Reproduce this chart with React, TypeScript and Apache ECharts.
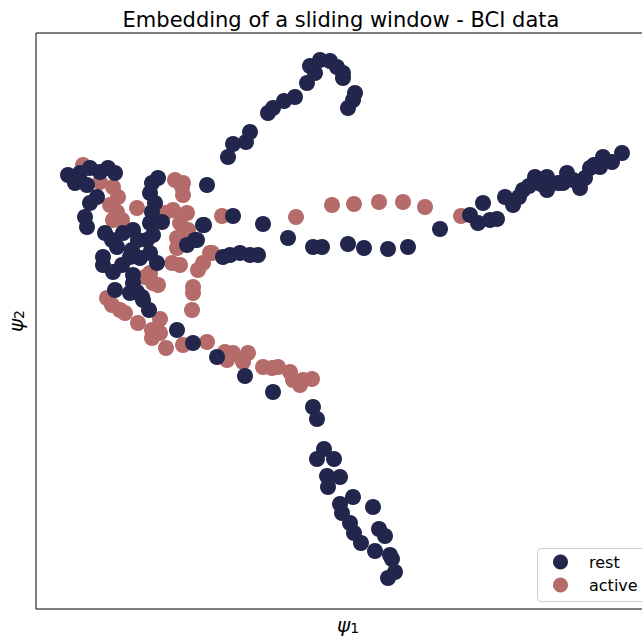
import React, { useEffect, useRef } from "react";
import * as echarts from "echarts";

// Embedding coordinates (psi1, psi2), arbitrary units
const restX = [228,233,246,250,268,273,284,295,307,310,315,320,330,337,343,343,355,353,348,
  207,233,204,263,288,313,322,348,364,388,408,440,470,483,478,490,497,505,513,519,523,529,535,541,547,547,558,567,563,573,580,585,590,594,600,603,612,622,
  197,230,240,250,258,223,
  68,75,80,90,100,108,115,87,97,90,85,87,105,112,117,123,133,138,132,147,153,103,103,113,122,130,140,150,157,133,133,115,130,137,142,143,149,152,158,150,155,152,150,162,203,195,187,177,193,217,245,273,
  313,317,324,317,334,327,340,328,353,340,342,350,354,361,373,379,385,375,390,392,395,388];
const restY = [157,144,142,132,113,108,101,97,83,66,73,60,61,67,73,78,93,100,108,
  185,216,225,224,238,247,247,244,248,249,247,229,215,203,223,220,219,197,205,197,190,186,177,184,177,190,183,173,183,180,188,178,168,165,167,157,162,153,
  240,255,253,255,255,257,
  175,183,173,168,172,168,173,185,197,203,217,227,233,240,247,233,230,240,250,240,235,257,265,272,265,257,258,253,263,275,283,290,293,292,297,300,310,183,178,193,203,212,223,222,225,240,245,330,343,357,376,392,
  407,419,449,459,459,476,477,487,497,504,513,523,533,543,507,529,536,551,555,559,572,578];

const activeX = [183,222,296,332,354,379,403,425,461,
  83,100,113,118,110,117,122,113,137,165,175,182,183,173,187,180,188,177,177,172,180,210,212,203,198,150,153,158,193,193,192,145,
  107,112,120,125,138,160,152,160,152,166,183,207,225,233,227,248,243,263,272,278,290,293,303,312,300];
const activeY = [183,216,217,205,204,202,202,207,216,
  165,182,187,197,205,212,220,220,208,213,180,187,195,210,213,223,230,238,248,263,265,253,253,263,270,273,283,285,287,293,310,277,
  298,305,310,313,323,319,330,333,338,348,345,342,352,353,360,353,362,367,368,367,372,380,380,379,385];

const seriesNames = ["rest", "active"];
const titleText = "Embedding of a sliding window - BCI data";

const H = 637;
const toPairs = (xs: number[], ys: number[]) => xs.map((x, i) => [x, H - ys[i]]);

export default function App() {
  const ref = useRef<HTMLDivElement>(null);
  useEffect(() => {
    if (!ref.current) return;
    const chart = echarts.init(ref.current, undefined, { renderer: "svg" });
    const nameRich = {
      p: { fontSize: 20, fontStyle: "italic", fontFamily: "DejaVu Sans", color: "#000" },
      s: { fontSize: 14, fontFamily: "DejaVu Sans", color: "#000", verticalAlign: "bottom", padding: [6, 0, 0, 0] },
    };
    chart.setOption({
      animation: false,
      textStyle: { fontFamily: "DejaVu Sans" },
      title: {
        text: titleText,
        left: 336,
        textAlign: "center",
        top: 4,
        textStyle: { fontSize: 21, fontWeight: "normal", color: "#000", fontFamily: "DejaVu Sans" },
      },
      grid: {
        left: 36, top: 33, width: 624, height: 576,
        outerBoundsMode: "none",
        containLabel: false,
        show: true, borderColor: "#000", borderWidth: 1, backgroundColor: "transparent",
      },
      xAxis: {
        type: "value", min: 36, max: 660,
        axisLine: { show: false }, axisTick: { show: false }, axisLabel: { show: false }, splitLine: { show: false },
        name: "{p|ψ}{s|1}", nameLocation: "middle", nameGap: 6,
        nameTextStyle: { rich: nameRich },
      },
      yAxis: {
        type: "value", min: 28, max: 604,
        axisLine: { show: false }, axisTick: { show: false }, axisLabel: { show: false }, splitLine: { show: false },
        name: "{p|ψ}{s|2}", nameLocation: "middle", nameGap: 10, nameRotate: 90,
        nameTextStyle: { rich: nameRich },
      },
      graphic: [
        {
          type: "rect", left: 537, top: 548, z: 10,
          shape: { width: 130, height: 53, r: 4 },
          style: { fill: "rgba(255,255,255,0.8)", stroke: "#cccccc", lineWidth: 1 },
        },
      ],
      legend: {
        data: seriesNames,
        orient: "vertical",
        left: 537, top: 548, z: 20,
        icon: "circle",
        itemWidth: 15, itemHeight: 15, itemGap: 7,
        padding: [6, 10, 6, 16],
        textStyle: { fontSize: 16, color: "#000", fontFamily: "DejaVu Sans", padding: [0, 0, 0, 16] },
      },
      series: [
        {
          name: "active", type: "scatter", symbolSize: 16,
          itemStyle: { color: "#b56b6a", opacity: 1 },
          data: toPairs(activeX, activeY),
        },
        {
          name: "rest", type: "scatter", symbolSize: 16,
          itemStyle: { color: "#22264c", opacity: 1 },
          data: toPairs(restX, restY),
        },
      ],
    });
    return () => chart.dispose();
  }, []);
  return <div ref={ref} style={{ position: "absolute", left: 0, top: 0, width: 680, height: 637 }} />;
}
